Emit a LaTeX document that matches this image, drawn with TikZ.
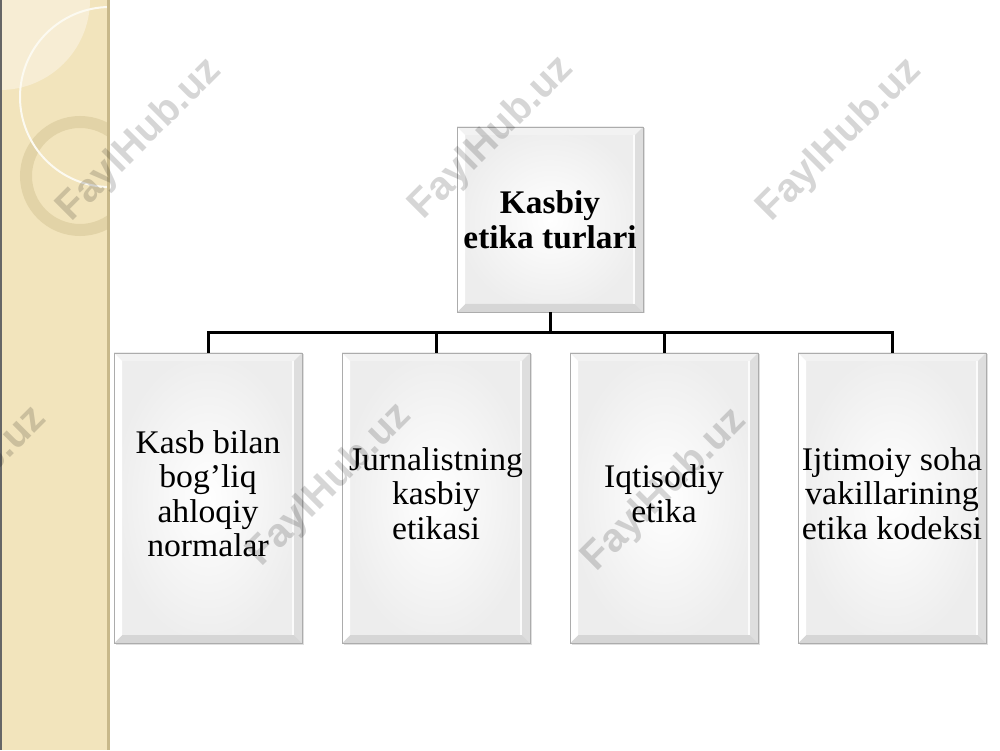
\documentclass[tikz,border=0pt]{standalone}
\usepackage{fontspec}
\setmainfont{Liberation Serif}
\newfontfamily\wmfont{Liberation Sans}
\usetikzlibrary{shadows,calc}
\definecolor{stripbeige}{RGB}{242,228,188}
\definecolor{striplight}{RGB}{247,237,212}
\definecolor{ringcol}{RGB}{214,198,150}
\definecolor{stripedge}{RGB}{200,184,138}
\newcommand\widetext[2]{\scalebox{#1}[1]{\begin{tabular}{@{}c@{}}#2\end{tabular}}}
\begin{document}
\begin{tikzpicture}[x=1pt,y=1pt,
  bevelled/.style={rectangle, draw=gray!65, line width=0.8pt, inner sep=0pt,
    inner color=white, outer color=gray!14, align=center,
    drop shadow={shadow xshift=1.5pt, shadow yshift=-1.5pt, opacity=0.25},
    path picture={
      \coordinate (ppnw) at (path picture bounding box.north west);
      \coordinate (ppne) at (path picture bounding box.north east);
      \coordinate (ppsw) at (path picture bounding box.south west);
      \coordinate (ppse) at (path picture bounding box.south east);
      \fill[gray!10] (ppnw) -- (ppne) -- ($(ppne)+(-8,-8)$) -- ($(ppnw)+(8,-8)$) -- cycle;
      \fill[gray!32] (ppsw) -- (ppse) -- ($(ppse)+(-8,8)$) -- ($(ppsw)+(8,8)$) -- cycle;
      \fill[white] (ppnw) -- (ppsw) -- ($(ppsw)+(8,8)$) -- ($(ppnw)+(8,-8)$) -- cycle;
      \fill[gray!26] (ppne) -- (ppse) -- ($(ppse)+(-8,8)$) -- ($(ppne)+(-8,-8)$) -- cycle;
      \fill[white,opacity=0.8] ($(ppne)+(-8,-8)$) rectangle ($(ppse)+(-10,8)$);
    }},
  topbox/.style={bevelled, minimum width=186pt, minimum height=185pt,
    font=\fontsize{33}{35}\selectfont\bfseries},
  childbox/.style={bevelled, minimum width=188pt, minimum height=290pt,
    font=\fontsize{33}{34.5}\selectfont},
  conn/.style={line width=3pt, black},
  wm/.style={font=\wmfont\bfseries\fontsize{40}{40}\selectfont, text=black,
    text opacity=0.16, rotate=45, inner sep=0pt}]
\useasboundingbox (0,0) rectangle (1000,750);
\fill[white] (0,0) rectangle (1000,750);
% left decorative strip
\fill[stripbeige] (0,0) rectangle (108,750);
\begin{scope}
  \clip (0,0) rectangle (108,750);
  \fill[striplight] (0,750) circle (90);
  \draw[ringcol, line width=12pt, opacity=0.55] (80,574) circle (54);
  \draw[white!80!stripbeige, line width=2pt] (110,653) circle (90);
\end{scope}
\fill[stripedge] (107,0) rectangle (110,750);
\fill[black!60] (0,0) rectangle (1.5,750);
% boxes
\node[topbox] (top) at (550,530.5) {\widetext{1.01}{\rule{0pt}{33pt}Kasbiy\\etika turlari}};
\node[childbox] (c1) at (208,252) {\widetext{1.02}{Kasb bilan\\bog’liq\\ahloqiy\\normalar}};
\node[childbox] (c2) at (436,252) {\widetext{1.02}{Jurnalistning\\kasbiy\\etikasi}};
\node[childbox] (c3) at (664,252) {\widetext{1.02}{Iqtisodiy\\etika}};
\node[childbox] (c4) at (892,252) {\widetext{1.03}{Ijtimoiy soha\\vakillarining\\etika kodeksi}};
% connectors
\coordinate (bus) at (550,417);
\draw[conn] (top.south) -- (bus);
\draw[conn] (c1.north) -- (c1.north |- bus) -- (c4.north |- bus) -- (c4.north);
\draw[conn] (c2.north) -- (c2.north |- bus);
\draw[conn] (c3.north) -- (c3.north |- bus);
% watermarks
\begin{scope}
  \clip (0,0) rectangle (1000,750);
  \node[wm] (w1) at (140,610) {FaylHub.uz};
  \node[wm] (w2) at (492,612) {FaylHub.uz};
  \node[wm] (w3) at (840,610) {FaylHub.uz};
  \node[wm] (w4) at (-35,262) {FaylHub.uz};
  \node[wm] (w5) at (330,265) {FaylHub.uz};
  \node[wm] (w6) at (665,260) {FaylHub.uz};
\end{scope}
\end{tikzpicture}
\end{document}
